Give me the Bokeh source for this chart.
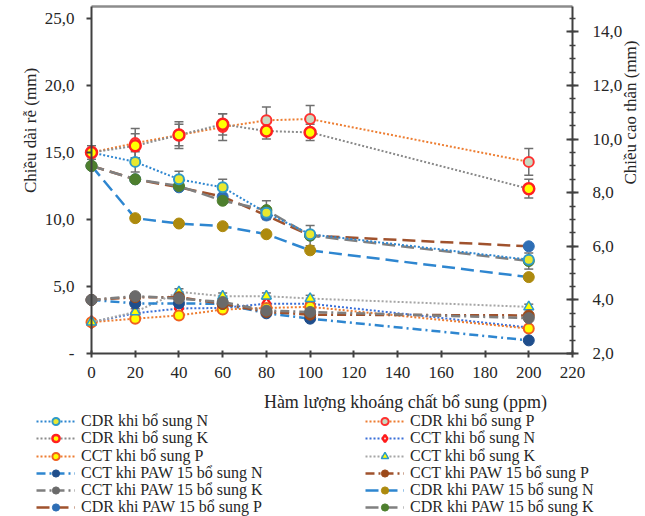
from math import pi
from bokeh.plotting import figure
from bokeh.models import (Range1d, LinearAxis, FixedTicker, Legend, LegendItem, Label,
                          Whisker, ColumnDataSource, TeeHead, CustomJSTickFormatter)
from bokeh.embed import file_html
from bokeh.resources import INLINE

# ---------------- data ----------------
x_ppm = [0, 20, 40, 60, 80, 100, 200]

# root length (left axis, mm)
cdr_N = [15.0, 14.3, 13.0, 12.4, 10.5, 8.9, 7.0]
cdr_P = [15.0, 15.7, 16.3, 16.9, 17.4, 17.5, 14.3]
cdr_K = [15.0, 15.5, 16.3, 17.1, 16.6, 16.5, 12.3]
cdr_paw_N = [14.0, 10.1, 9.7, 9.5, 8.9, 7.7, 5.7]
cdr_paw_P = [14.0, 13.0, 12.4, 11.7, 10.3, 8.8, 8.0]
cdr_paw_K = [14.0, 13.0, 12.5, 11.4, 10.7, 8.8, 6.9]

# stem height (right axis, mm)
cct_N = [3.17, 3.5, 3.68, 3.7, 3.86, 3.86, 2.97]
cct_P = [3.17, 3.3, 3.42, 3.64, 3.7, 3.74, 2.93]
cct_K = [3.17, 3.55, 4.3, 4.14, 4.14, 4.05, 3.74]
cct_paw_N = [4.0, 3.87, 3.87, 3.85, 3.5, 3.3, 2.49]
cct_paw_P = [4.0, 4.1, 4.1, 3.85, 3.55, 3.45, 3.42]
cct_paw_K = [4.0, 4.14, 4.05, 3.92, 3.6, 3.55, 3.32]

# error bars
cdr_P_err = [0.0, 1.1, 1.0, 1.0, 1.0, 1.0, 1.0]
cdr_K_err = [0.5, 0.9, 0.8, 0.8, 0.6, 0.6, 0.7]
cdr_N_err = [0.0, 0.75, 0.6, 0.6, 0.0, 0.0, 0.0]
cdr_paw_K_err = [0.0, 0.0, 0.0, 0.0, 0.7, 0.75, 0.6]
cct_K_err = [0.0, 0.12, 0.12, 0.12, 0.12, 0.12, 0.1]

left_ticks = [0, 5, 10, 15, 20, 25]
right_ticks = [2, 4, 6, 8, 10, 12, 14]
x_ticks = [0, 20, 40, 60, 80, 100, 120, 140, 160, 180, 200, 220]

labels = [
    "CDR khi bổ sung N", "CDR khi bổ sung P",
    "CDR khi bổ sung K", "CCT khi bổ sung N",
    "CCT khi bổ sung P", "CCT khi bổ sung K",
    "CCT khi PAW 15 bổ sung N", "CCT khi PAW 15 bổ sung P",
    "CCT khi PAW 15 bổ sung K", "CDR khi PAW 15 bổ sung N",
    "CDR khi PAW 15 bổ sung P", "CDR khi PAW 15 bổ sung K",
]

FONT = "Liberation Serif"
TXT = "#262626"

W, H = 645, 516
# pixel geometry of the plotting box
X0PX, X1PX = 91.0, 572.0
Y0PX, KY = 353.0, 13.4
kx = (X1PX - X0PX) / 220.0

x_lo = -X0PX / kx
x_hi = (W - X0PX) / kx
y_lo = -(H - Y0PX) / KY
y_hi = Y0PX / KY
y_top = (Y0PX - 6) / KY  # top border of the box

p = figure(width=W, height=H, output_backend="svg", toolbar_location=None, title=None,
           x_range=Range1d(x_lo, x_hi), y_range=Range1d(y_lo, y_hi),
           min_border_left=0, min_border_right=0, min_border_top=0, min_border_bottom=0)
p.extra_y_ranges = {"right": Range1d(2 + y_lo / 2, 2 + y_hi / 2)}
p.xgrid.visible = False
p.ygrid.visible = False
p.outline_line_color = None
p.background_fill_color = "white"
p.border_fill_color = "white"

fmt = CustomJSTickFormatter(code="return tick == 0 ? '-' : tick.toFixed(1).replace('.', ',');")

ya = p.yaxis[0]
ya.fixed_location = 0
ya.bounds = (0, y_top)
ya.ticker = FixedTicker(ticks=left_ticks)
ya.formatter = fmt
ya.major_tick_in = 0
ya.major_tick_out = 5
ya.major_label_standoff = 12

xa = p.xaxis[0]
xa.fixed_location = 0
xa.bounds = (0, 220)
xa.ticker = FixedTicker(ticks=x_ticks)
xa.major_tick_in = 3
xa.major_tick_out = 4
xa.major_label_standoff = 9

ra = LinearAxis(y_range_name="right", fixed_location=220, bounds=(2, 2 + y_top / 2),
                ticker=FixedTicker(ticks=right_ticks,
                                   minor_ticks=[2 + 0.5 * i for i in range(26)]),
                formatter=CustomJSTickFormatter(code="return tick.toFixed(1).replace('.', ',');"))
ra.major_tick_in = 6
ra.major_tick_out = 6
ra.minor_tick_in = 3
ra.minor_tick_out = 3
ra.major_label_standoff = 14
p.add_layout(ra, "right")

ta = LinearAxis(fixed_location=y_top, bounds=(0, 220), ticker=FixedTicker(ticks=[]))
ta.major_label_text_font_size = "0px"
ta.major_tick_line_color = None
ta.minor_tick_line_color = None
ta.axis_line_color = "#8c8c8c"
ta.axis_line_width = 2.5
p.add_layout(ta, "above")

for ax, fnt in ((ya, "serif"), (xa, FONT), (ra, "Times New Roman")):
    ax.axis_line_color = "#404040"
    ax.axis_line_width = 2
    ax.major_tick_line_color = "#404040"
    ax.major_tick_line_width = 2
    ax.minor_tick_line_color = "#404040" if ax is ra else None
    ax.minor_tick_line_width = 1.5
    ax.major_label_text_font = fnt
    ax.major_label_text_font_size = "17px"
    ax.major_label_text_color = TXT


def whisk(vals, errs, rng=None):
    b = [xv for xv, e in zip(x_ppm, errs) if e > 0]
    up = [v + e for v, e in zip(vals, errs) if e > 0]
    lo = [v - e for v, e in zip(vals, errs) if e > 0]
    src = ColumnDataSource(dict(base=b, upper=up, lower=lo))
    kw = dict(y_range_name=rng) if rng else {}
    w = Whisker(source=src, base="base", upper="upper", lower="lower",
                line_color="#6f6f6f", line_width=1.5,
                upper_head=TeeHead(size=9, line_color="#6f6f6f", line_width=1.5),
                lower_head=TeeHead(size=9, line_color="#6f6f6f", line_width=1.5), **kw)
    p.add_layout(w)


renderers = {}


def series(key, vals, rng, lcolor, dash, lwidth, marker, msize, mline, mfill, mlw):
    kw = dict(y_range_name=rng) if rng else {}
    lr = p.line(x_ppm, vals, line_color=lcolor, line_dash=dash, line_width=lwidth, **kw)
    mr = p.scatter(x_ppm, vals, marker=marker, size=msize, line_color=mline,
                   fill_color=mfill, line_width=mlw, **kw)
    renderers[key] = [lr, mr]


BLUE = "#2e86d0"
ORANGE = "#ed7d31"
GRAY = "#8c8c8c"
BROWN = "#a0522d"

whisk(cct_K, cct_K_err, "right")
series(3, cct_N, "right", "#3a6fd8", "2 2", 2, "diamond", 12, "#ff1a1a", "white", 2.5)
series(4, cct_P, "right", ORANGE, "2 2", 2, "circle", 10, "#f06020", "#ffff00", 2)
series(5, cct_K, "right", "#a6a6a6", "2 2", 2, "triangle", 10, "#2e9ac8", "#ffff00", 1.5)
series(6, cct_paw_N, "right", BLUE, "9 4 2 4", 2.5, "circle", 11, "#1f4e8c", "#1f4e8c", 1)
series(7, cct_paw_P, "right", BROWN, "9 4 2 4", 2.5, "circle", 11, "#9c4a1a", "#9c4a1a", 1)
series(8, cct_paw_K, "right", "#7f7f7f", "9 4 2 4", 2.5, "circle", 11, "#6a6a6a", "#6a6a6a", 1)

whisk(cdr_P, cdr_P_err)
whisk(cdr_K, cdr_K_err)
whisk(cdr_N, cdr_N_err)
whisk(cdr_paw_K, cdr_paw_K_err)
series(9, cdr_paw_N, None, BLUE, "13 6", 2.5, "circle", 11, "#ad8a0e", "#ad8a0e", 1)
series(10, cdr_paw_P, None, BROWN, "13 6", 2.5, "circle", 11, "#2e6eb5", "#2e6eb5", 1)
series(11, cdr_paw_K, None, "#808080", "13 6", 2.5, "circle", 11, "#4e7f2e", "#4e7f2e", 1)
series(0, cdr_N, None, BLUE, "2 2", 2, "circle", 10, "#2e9ac8", "#e8e830", 2)
series(1, cdr_P, None, ORANGE, "2 2", 2, "circle", 10, "#ff3030", "#c8d8c0", 2)
series(2, cdr_K, None, GRAY, "2 2", 2, "circle", 11, "#ff2020", "#ffff00", 2.5)

# legend: one small legend per entry, arranged in two columns
for i, lab in enumerate(labels):
    row, col = divmod(i, 2)
    lx = 36 if col == 0 else 365
    cy = 421 + row * 17.25
    vy = H - (cy + 9)
    lg = Legend(items=[LegendItem(label=lab, renderers=renderers[i])],
                location=(lx, vy), padding=0, margin=0, spacing=0,
                border_line_alpha=0, background_fill_alpha=0,
                glyph_width=39, glyph_height=18, label_height=18, label_standoff=6,
                label_text_font=FONT, label_text_font_size="16px", label_text_color=TXT)
    p.add_layout(lg)

# axis titles
p.add_layout(Label(x=(30 - X0PX) / kx, y=(Y0PX - 130) / KY, text="Chiều dài rễ (mm)",
                   angle=pi / 2, text_align="center", text_baseline="middle",
                   text_font="serif", text_font_size="17px", text_color=TXT))
p.add_layout(Label(x=(630 - X0PX) / kx, y=(Y0PX - 112) / KY, text="Chiều cao thân (mm)",
                   angle=pi / 2, text_align="center", text_baseline="middle",
                   text_font="Times New Roman", text_font_size="17px", text_color=TXT))
p.add_layout(Label(x=(405 - X0PX) / kx, y=(Y0PX - 401) / KY,
                   text="Hàm lượng khoáng chất bổ sung (ppm)",
                   text_align="center", text_baseline="middle",
                   text_font=FONT, text_font_size="18px", text_color=TXT))

open("out.html", "w").write(file_html(p, INLINE))
